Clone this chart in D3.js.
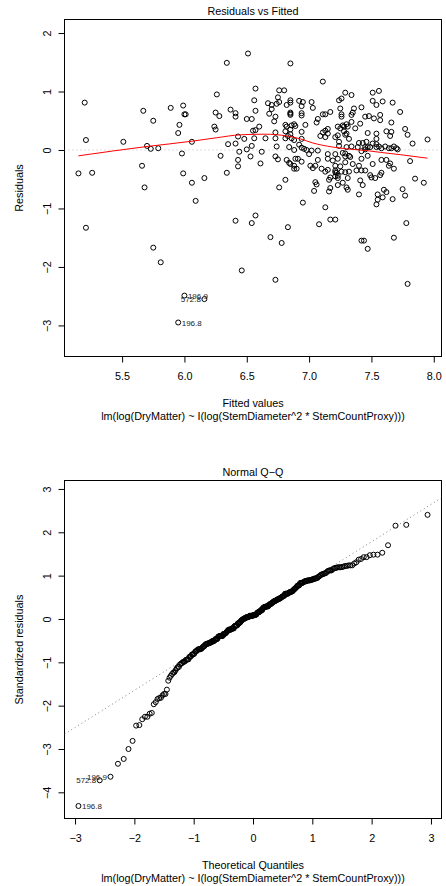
<!DOCTYPE html>
<html>
<head>
<meta charset="utf-8">
<script src="https://cdn.jsdelivr.net/npm/d3@7"></script>
<style>
  body { margin: 0; background: #fff; }
  svg text { font-family: "Liberation Sans", Arial, Helvetica, sans-serif; fill: #000; }
</style>
</head>
<body>
<div id="chart"></div>
<script>
var fitted = [5.15,5.20,5.21,5.21,5.26,5.51,5.66,5.67,5.68,5.70,
  5.73,5.75,5.75,5.79,5.81,5.89,5.95,5.95,5.96,5.98,
  5.99,5.99,6.00,6.01,6.00,6.06,6.06,6.09,6.16,6.16,
  6.24,6.25,6.25,6.26,6.28,6.29,6.34,6.34,6.35,6.37,
  6.41,6.41,6.41,6.41,6.43,6.44,6.43,6.43,6.46,6.48,
  6.50,6.50,6.51,6.54,6.54,6.53,6.54,6.55,6.57,6.56,
  6.57,6.56,6.57,6.57,6.60,6.61,6.62,6.65,6.67,6.70,
  6.68,6.69,6.70,6.72,6.73,6.73,6.73,6.73,6.74,6.73,
  6.75,6.74,6.76,6.75,6.76,6.80,6.78,6.76,6.81,6.82,
  6.83,6.81,6.82,6.81,6.83,6.85,6.85,6.85,6.85,6.85,
  6.85,6.85,6.86,6.86,6.88,6.85,6.88,6.88,6.90,6.85,
  6.82,6.81,6.88,6.84,6.84,6.88,6.92,6.95,6.94,6.94,
  6.94,6.94,6.94,6.94,6.94,6.95,6.92,6.89,6.97,6.96,
  7.00,6.89,6.91,7.01,7.05,7.02,7.07,7.03,7.04,7.05,
  7.06,7.06,7.07,7.07,7.08,7.09,7.11,7.13,7.11,7.11,
  7.13,7.13,7.13,7.10,7.13,7.15,7.15,7.15,7.15,7.16,
  7.16,7.17,7.17,7.21,7.17,7.19,7.21,7.21,7.21,7.21,
  7.21,7.22,7.23,7.23,7.23,7.23,7.24,7.24,7.24,7.25,
  7.26,7.26,7.26,7.29,7.27,7.28,7.25,7.27,7.30,7.23,
  7.31,7.29,7.30,7.29,7.28,7.30,7.30,7.29,7.32,7.26,
  7.29,7.32,7.31,7.33,7.34,7.35,7.34,7.36,7.35,7.38,
  7.40,7.40,7.41,7.40,7.43,7.42,7.42,7.41,7.43,7.42,
  7.44,7.45,7.42,7.46,7.47,7.45,7.47,7.48,7.49,7.51,
  7.51,7.52,7.53,7.54,7.55,7.54,7.56,7.57,7.58,7.59,
  7.61,7.62,7.65,7.65,7.66,7.64,7.67,7.68,7.68,7.71,
  7.73,7.75,7.77,7.77,7.78,7.79,7.81,7.83,7.85,7.92,
  7.95,7.79,7.56,7.51,7.51,7.54,7.59,7.67,7.54,7.54,
  7.54,7.47,7.49,7.45,7.39,7.50,7.45,7.47,7.55,7.62,
  7.57,7.68,7.66,7.23,7.02,7.03,7.58,7.60,7.62,7.64,
  7.66,7.70,7.58,7.57,7.42,7.37,7.34,7.32,7.31,7.29,
  7.27,7.25,7.21,7.17,7.15,6.98,7.34];

var resid = [-0.40,0.81,0.17,-1.33,-0.39,0.14,-0.27,0.67,-0.64,0.07,
  0.02,0.50,-1.67,0.03,-1.92,0.72,0.29,-2.95,0.43,-0.06,
  0.76,-0.40,0.61,0.61,-2.49,0.14,-0.56,-0.87,-0.48,-2.55,
  0.40,0.35,0.64,0.95,0.58,-0.10,1.49,-0.39,0.10,0.69,
  0.63,0.57,0.11,-1.21,0.23,-0.03,-0.17,-0.28,-2.06,0.19,
  0.53,0.01,1.65,0.53,0.07,-0.11,-1.25,0.33,0.34,0.20,
  1.05,0.85,0.67,-1.12,0.40,-0.23,-0.03,0.20,0.80,0.77,
  0.62,-1.49,0.70,0.49,0.57,0.30,0.20,-2.22,0.06,-0.11,
  -0.16,0.79,0.82,0.90,1.02,1.02,-1.59,-0.64,-0.51,-0.17,
  -1.32,0.32,0.40,0.43,0.24,0.64,0.62,0.60,0.85,0.81,
  1.48,0.35,0.20,0.42,0.44,-0.24,0.00,-0.32,-0.32,0.27,
  0.77,0.20,0.17,0.05,-0.22,-0.27,0.84,0.82,0.75,0.63,
  0.59,0.31,0.19,0.04,-0.20,-0.90,0.09,0.41,0.43,0.02,
  -0.07,-0.15,-0.15,-0.27,-0.27,-0.01,-0.01,-0.31,-0.70,-0.55,
  -0.59,0.47,0.53,-0.17,-1.27,0.24,0.61,0.61,1.17,0.30,
  0.33,0.22,-0.98,-0.32,-0.37,-0.34,0.36,-0.07,-0.15,-0.51,
  -0.71,0.65,-1.19,-1.19,-0.47,-0.18,-0.45,0.22,-0.07,-0.27,
  -0.38,-0.39,-0.44,-0.48,0.40,0.25,0.14,0.07,0.85,0.71,
  0.61,0.57,0.88,0.98,-0.05,0.32,0.37,-0.56,-0.64,-0.60,
  -0.68,-0.21,0.28,0.26,0.40,0.44,0.05,-0.06,-0.10,-0.37,
  -0.38,-0.37,-0.48,-0.12,0.48,0.64,0.94,0.71,-0.24,-0.35,
  -0.27,-0.76,0.45,0.12,0.12,0.73,-0.15,-0.52,-0.60,-1.55,
  -1.55,0.01,-0.02,0.14,-1.69,0.57,0.29,0.58,-0.43,-0.24,
  0.11,0.54,-0.48,-0.93,-0.85,0.28,0.06,0.51,-0.17,-0.81,
  0.06,0.32,0.24,-0.23,0.47,-0.27,-0.84,-0.32,-1.50,0.01,
  0.65,-0.67,-0.78,0.36,-1.25,0.26,-0.19,0.11,-0.49,-0.56,
  0.18,-2.29,1.01,0.98,0.84,0.77,0.83,0.81,0.10,0.19,
  0.05,0.05,0.05,0.05,0.05,-0.47,-0.35,-0.10,-0.76,-0.72,
  -0.43,0.06,0.31,-0.15,0.82,0.72,-0.39,-0.68,-0.17,0.03,
  0.03,0.03,0.03,0.60,-0.35,0.37,0.06,0.19,0.40,-0.11,
  0.42,-0.28,-0.35,-0.65,0.28,0.00,0.60];

// red smoother
var smoothX = [5.15, 5.70, 6.06, 6.26, 6.45, 6.65, 6.82, 6.93, 7.03, 7.19, 7.30, 7.46, 7.57, 7.73, 7.95];
var smoothY = [-0.10, 0.06, 0.15, 0.21, 0.26, 0.27, 0.24, 0.19, 0.12, 0.05, 0.02, -0.01, -0.04, -0.08, -0.14];

// names of the 3 most extreme points (largest |residual| first) and label side (R pos: 4 right, 2 left)
var idNames = ["196.8", "572.8", "196.9"];
var rvfLabelPos = [4, 2, 4];
var qqLabelPos = [4, 2, 2];

var rvfXTicks = [5.5, 6.0, 6.5, 7.0, 7.5, 8.0];
var rvfYTicks = [-3, -2, -1, 0, 1, 2];
var qqXTicks = [-3, -2, -1, 0, 1, 2, 3];
var qqYTicks = [-4, -3, -2, -1, 0, 1, 2, 3];

var formulaText = "lm(log(DryMatter) ~ I(log(StemDiameter^2 * StemCountProxy)))";

var W = 446, H = 886;
var FS = "10.8px";
var svg = d3.select("#chart").append("svg")
    .attr("width", W)
    .attr("height", H);

var boxTop = {x0: 64.5, x1: 441.5, y0: 19.5, y1: 356.5};
var boxBot = {x0: 64.5, x1: 441.5, y0: 480.5, y1: 818.5};

// R style axis ranges
function extend(r, f) {
    var d = (r[1] - r[0]) * f;
    return [r[0] - d, r[1] + d];
}

// inverse normal cdf (Acklam)
function qnorm(p) {
    var a = [-3.969683028665376e+01, 2.209460984245205e+02, -2.759285104469687e+02, 1.383577518672690e+02, -3.066479806614716e+01, 2.506628277459239e+00];
    var b = [-5.447609879822406e+01, 1.615858368580409e+02, -1.556989798598866e+02, 6.680131188771972e+01, -1.328068155288572e+01];
    var c = [-7.784894002430293e-03, -3.223964580411365e-01, -2.400758277161838e+00, -2.549732539343734e+00, 4.374664141464968e+00, 2.938163982698783e+00];
    var d = [7.784695709041462e-03, 3.224671290700398e-01, 2.445134137142996e+00, 3.754408661907416e+00];
    var pl = 0.02425, q, r;
    if (p < pl) {
        q = Math.sqrt(-2 * Math.log(p));
        return (((((c[0]*q+c[1])*q+c[2])*q+c[3])*q+c[4])*q+c[5]) / ((((d[0]*q+d[1])*q+d[2])*q+d[3])*q+1);
    }
    if (p > 1 - pl) {
        q = Math.sqrt(-2 * Math.log(1 - p));
        return -(((((c[0]*q+c[1])*q+c[2])*q+c[3])*q+c[4])*q+c[5]) / ((((d[0]*q+d[1])*q+d[2])*q+d[3])*q+1);
    }
    q = p - 0.5; r = q * q;
    return (((((a[0]*r+a[1])*r+a[2])*r+a[3])*r+a[4])*r+a[5])*q / (((((b[0]*r+b[1])*r+b[2])*r+b[3])*r+b[4])*r+1);
}

var n = fitted.length;
var pts = fitted.map(function(f, i) { return {i: i, f: f, r: resid[i]}; });

// which points carry an id label
var byAbs = pts.slice().sort(function(a, b) { return Math.abs(b.r) - Math.abs(a.r); });
var nameOf = {};
byAbs.slice(0, 3).forEach(function(p, k) { nameOf[p.i] = k; });

// standardized residuals (simple regression leverage)
var fbar = d3.mean(fitted);
var sxx = d3.sum(fitted, function(f) { return (f - fbar) * (f - fbar); });
var s = Math.sqrt(d3.sum(resid, function(r) { return r * r; }) / (n - 2));
pts.forEach(function(p) {
    var h = 1 / n + (p.f - fbar) * (p.f - fbar) / sxx;
    p.rs = p.r / (s * Math.sqrt(1 - h));
});
var sorted = pts.slice().sort(function(a, b) { return a.rs - b.rs; });
sorted.forEach(function(p, k) { p.q = qnorm((k + 1 - 0.5) / n); });

function clipFor(id, box) {
    svg.append("clipPath").attr("id", id)
        .append("rect")
        .attr("x", box.x0).attr("y", box.y0)
        .attr("width", box.x1 - box.x0).attr("height", box.y1 - box.y0);
}

function frame(box, xScale, yScale, xTicks, yTicks, xFmt, title, xlab, ylab) {
    var g = svg.append("g");
    var xAxis = d3.axisBottom(xScale).tickValues(xTicks).tickSize(6).tickPadding(10).tickFormat(xFmt);
    var yAxis = d3.axisLeft(yScale).tickValues(yTicks).tickSize(6).tickFormat(d3.format("d"));

    var xg = g.append("g").attr("transform", "translate(0," + box.y1 + ")").call(xAxis);
    var yg = g.append("g").attr("transform", "translate(" + box.x0 + ",0)").call(yAxis);
    [xg, yg].forEach(function(a) {
        a.select(".domain").remove();
        a.attr("font-family", null).attr("font-size", null);
        a.selectAll("line").attr("stroke", "#000");
        a.selectAll("text").style("font-size", FS);
    });
    yg.selectAll("text")
        .attr("x", null).attr("dy", null)
        .attr("text-anchor", "middle")
        .attr("transform", "translate(-14,0) rotate(-90)");

    g.append("rect")
        .attr("x", box.x0).attr("y", box.y0)
        .attr("width", box.x1 - box.x0).attr("height", box.y1 - box.y0)
        .attr("fill", "none").attr("stroke", "#000").attr("stroke-width", 1);

    var cx = (box.x0 + box.x1) / 2, cy = (box.y0 + box.y1) / 2;
    g.append("text").attr("x", cx).attr("y", box.y0 - 5)
        .attr("text-anchor", "middle").style("font-size", FS).text(title);
    g.append("text").attr("x", cx).attr("y", box.y1 + 50.5)
        .attr("text-anchor", "middle").style("font-size", FS).text(xlab);
    g.append("text").attr("x", cx).attr("y", box.y1 + 63)
        .attr("text-anchor", "middle").style("font-size", FS).text(formulaText);
    g.append("text").attr("transform", "translate(23," + cy + ") rotate(-90)")
        .attr("text-anchor", "middle").style("font-size", FS).text(ylab);
}

function idLabel(g, x, y, name, pos) {
    g.append("text")
        .attr("x", pos === 4 ? x + 3.5 : x - 3.5)
        .attr("y", y)
        .attr("dy", "0.4em")
        .attr("text-anchor", pos === 4 ? "start" : "end")
        .style("font-size", "8px")
        .style("fill", "#222")
        .text(name);
}

// ---- Residuals vs Fitted ----
var x1 = d3.scaleLinear()
    .domain(extend(d3.extent(fitted), 0.04))
    .range([boxTop.x0, boxTop.x1]);
var y1 = d3.scaleLinear()
    .domain(extend(extend(d3.extent(resid), 0.08), 0.04))
    .range([boxTop.y1, boxTop.y0]);

clipFor("clipTop", boxTop);
frame(boxTop, x1, y1, rvfXTicks, rvfYTicks, d3.format(".1f"),
    "Residuals vs Fitted", "Fitted values", "Residuals");

var topG = svg.append("g").attr("clip-path", "url(#clipTop)");
topG.append("line")
    .attr("x1", boxTop.x0).attr("x2", boxTop.x1)
    .attr("y1", y1(0)).attr("y2", y1(0))
    .attr("stroke", "#bebebe").attr("stroke-dasharray", "1,3");

topG.selectAll("circle").data(pts).enter()
    .append("circle")
    .attr("cx", function(d) { return x1(d.f); })
    .attr("cy", function(d) { return y1(d.r); })
    .attr("r", 2.5)
    .attr("fill", "none").attr("stroke", "#000").attr("stroke-width", 1);

var smoothLine = d3.line()
    .x(function(d, i) { return x1(smoothX[i]); })
    .y(function(d) { return y1(d); })
    .curve(d3.curveMonotoneX);
topG.append("path").datum(smoothY)
    .attr("d", smoothLine)
    .attr("fill", "none").attr("stroke", "#ff0000").attr("stroke-width", 1);

var topLab = svg.append("g");
pts.forEach(function(p) {
    if (nameOf[p.i] !== undefined) {
        var k = nameOf[p.i];
        idLabel(topLab, x1(p.f), y1(p.r), idNames[k], rvfLabelPos[k]);
    }
});

// ---- Normal Q-Q ----
var rsRange = d3.extent(pts, function(p) { return p.rs; });
rsRange[1] += (rsRange[1] - rsRange[0]) * 0.075;
var x2 = d3.scaleLinear()
    .domain(extend(d3.extent(pts, function(p) { return p.q; }), 0.04))
    .range([boxBot.x0, boxBot.x1]);
var y2 = d3.scaleLinear()
    .domain(extend(rsRange, 0.04))
    .range([boxBot.y1, boxBot.y0]);

clipFor("clipBot", boxBot);
frame(boxBot, x2, y2, qqXTicks, qqYTicks, d3.format("d"),
    "Normal Q\u2212Q", "Theoretical Quantiles", "Standardized residuals");

var botG = svg.append("g").attr("clip-path", "url(#clipBot)");

// qqline through the quartiles
var rsSorted = sorted.map(function(p) { return p.rs; });
var yq = [d3.quantile(rsSorted, 0.25), d3.quantile(rsSorted, 0.75)];
var xq = [qnorm(0.25), qnorm(0.75)];
var slope = (yq[1] - yq[0]) / (xq[1] - xq[0]);
var icpt = yq[0] - slope * xq[0];
var xd = x2.domain();
botG.append("line")
    .attr("x1", x2(xd[0])).attr("y1", y2(icpt + slope * xd[0]))
    .attr("x2", x2(xd[1])).attr("y2", y2(icpt + slope * xd[1]))
    .attr("stroke", "#7f7f7f").attr("stroke-dasharray", "1,3");

botG.selectAll("circle").data(sorted).enter()
    .append("circle")
    .attr("cx", function(d) { return x2(d.q); })
    .attr("cy", function(d) { return y2(d.rs); })
    .attr("r", 2.5)
    .attr("fill", "none").attr("stroke", "#000").attr("stroke-width", 1);

var qqExtreme = pts.slice().sort(function(a, b) { return Math.abs(b.rs) - Math.abs(a.rs); }).slice(0, 3);
var botLab = svg.append("g");
qqExtreme.forEach(function(p) {
    var k = nameOf[p.i];
    if (k === undefined) return;
    idLabel(botLab, x2(p.q), y2(p.rs), idNames[k], qqLabelPos[k]);
});
</script>
</body>
</html>
